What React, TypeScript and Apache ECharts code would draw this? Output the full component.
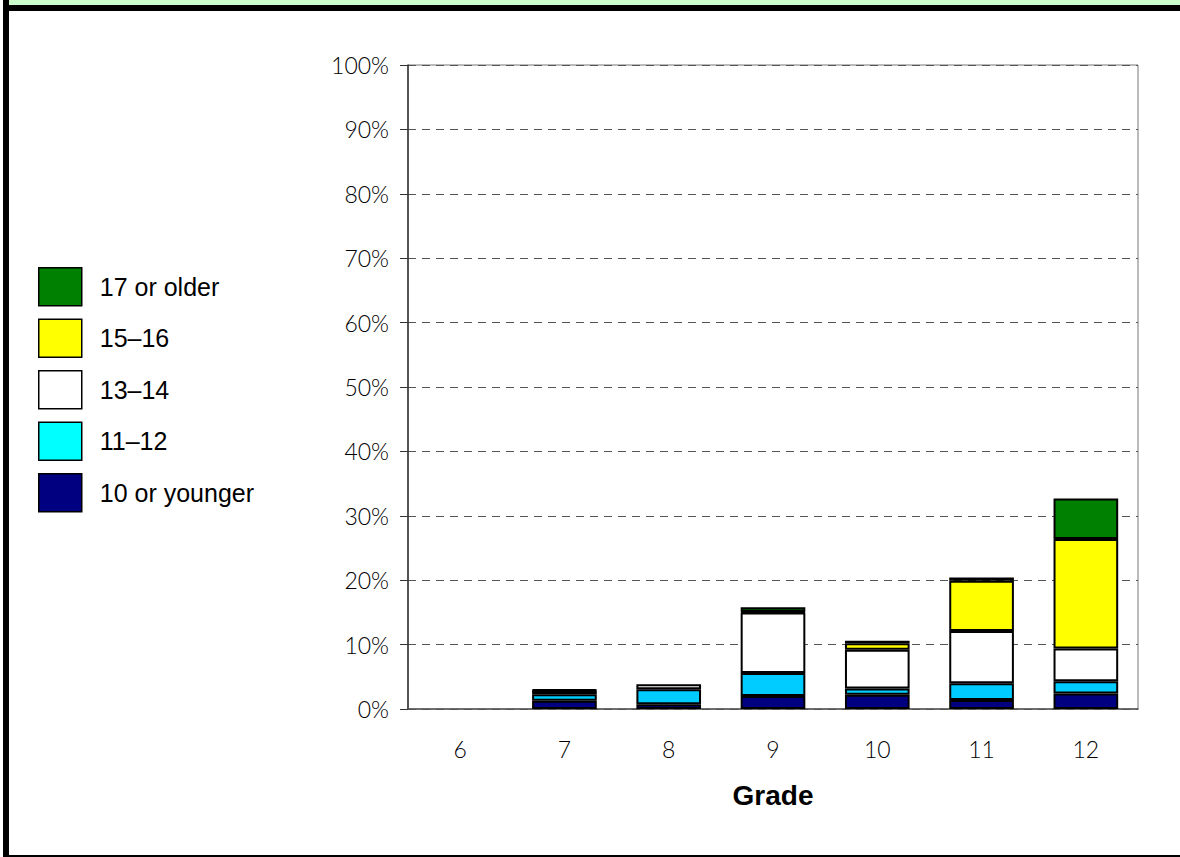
import React, { useEffect, useRef } from "react";
import * as echarts from "echarts";

const grades = ["6", "7", "8", "9", "10", "11", "12"];
const seriesNames = ["10 or younger", "11–12", "13–14", "15–16", "17 or older"];
const age10OrYounger = [0, 1.3, 0.75, 2.0, 2.2, 1.4, 2.4];
const age11to12 = [0, 1.0, 2.3, 3.6, 1.0, 2.6, 1.9];
const age13to14 = [0, 0.5, 0.8, 9.4, 6.0, 8.1, 5.1];
const age15to16 = [0, 0.1, 0, 0.1, 1.0, 7.8, 17.0];
const age17OrOlder = [0, 0.1, 0, 0.7, 0.4, 0.5, 6.3];
const yTicks = [0, 10, 20, 30, 40, 50, 60, 70, 80, 90, 100];

const barColors = ["#000080", "#00CCFF", "#FFFFFF", "#FFFF00", "#008000"];
const legendColors = ["#000080", "#00FFFF", "#FFFFFF", "#FFFF00", "#008000"];

export default function App() {
  const ref = useRef<HTMLDivElement>(null);
  useEffect(() => {
    document.body.style.margin = "0";
    const chart = echarts.init(ref.current!, null, { renderer: "svg" });
    const values = [age10OrYounger, age11to12, age13to14, age15to16, age17OrOlder];
    const tickFont = "Lato, 'DejaVu Sans', sans-serif";
    chart.setOption({
      animation: false,
      backgroundColor: "#FFFFFF",
      grid: {
        left: 408,
        right: 42,
        top: 65,
        bottom: 148,
        show: true,
        borderColor: "#777",
        borderWidth: 1,
      },
      legend: {
        orient: "vertical",
        left: 33,
        top: 262,
        itemWidth: 43,
        itemHeight: 38,
        itemGap: 12,
        icon: "rect",
        selectedMode: false,
        textStyle: {
          fontFamily: "'Liberation Sans', Arial, sans-serif",
          fontSize: 25,
          color: "#000",
          padding: [0, 0, 0, 13],
        },
        data: seriesNames
          .map((n, i) => ({
            name: n,
            itemStyle: { color: legendColors[i], borderColor: "#000", borderWidth: 1.5 },
          }))
          .reverse(),
      },
      xAxis: {
        type: "category",
        data: grades,
        axisTick: { show: false },
        axisLine: { lineStyle: { color: "#555", width: 1.5 } },
        axisLabel: { fontFamily: tickFont, fontSize: 23, fontWeight: 300, color: "#000", margin: 28 },
        name: "Grade",
        nameLocation: "middle",
        nameGap: 72,
        nameTextStyle: {
          fontFamily: "'Liberation Sans', Arial, sans-serif",
          fontSize: 28,
          fontWeight: "bold",
          color: "#000",
        },
      },
      yAxis: {
        type: "value",
        min: yTicks[0],
        max: yTicks[yTicks.length - 1],
        interval: 10,
        axisLine: { show: true, lineStyle: { color: "#333", width: 1.5 } },
        axisTick: { show: true, length: 8, lineStyle: { color: "#333" } },
        axisLabel: {
          formatter: "{value}%",
          fontFamily: tickFont,
          fontSize: 23,
          fontWeight: 300,
          color: "#000",
          margin: 19,
        },
        splitLine: {
          show: true,
          lineStyle: { color: "#555", type: [8, 6], width: 1 },
        },
      },
      series: seriesNames.map((n, i) => ({
        name: n,
        type: "bar",
        stack: "total",
        barWidth: "62%",
        data: values[i].map((v) => (v === 0 ? "-" : v)),
        itemStyle: { color: barColors[i], borderColor: "#000", borderWidth: 2 },
      })),
      graphic: [
        { type: "rect", shape: { x: 9, y: 0, width: 1171, height: 5 }, style: { fill: "#CCFFCC" } },
        { type: "rect", shape: { x: 3, y: 5, width: 1177, height: 6 }, style: { fill: "#000" } },
        { type: "rect", shape: { x: 3, y: 0, width: 6, height: 857 }, style: { fill: "#000" } },
        { type: "rect", shape: { x: 9, y: 855, width: 1171, height: 2 }, style: { fill: "#000" } },
      ],
    });
    return () => chart.dispose();
  }, []);
  return (
    <div
      ref={ref}
      style={{ position: "absolute", left: 0, top: 0, width: 1180, height: 857 }}
    />
  );
}
